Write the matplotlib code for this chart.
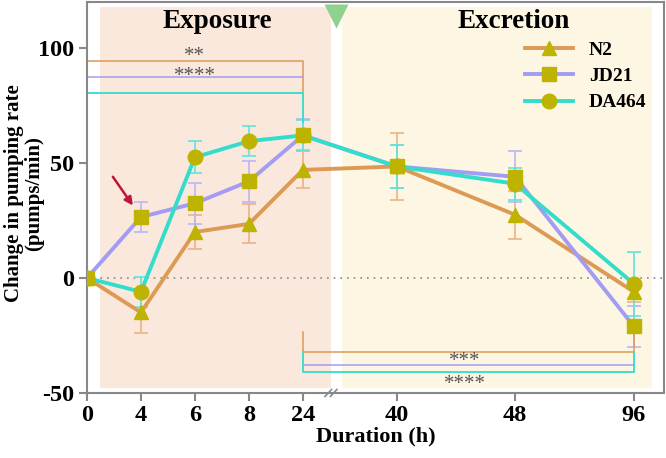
import numpy as np
import matplotlib.pyplot as plt
from matplotlib.patches import Rectangle

hours = ['0', '4', '6', '8', '24', '40', '48', '96']
strains = ['N2', 'JD21', 'DA464']
n2_mean = [0, -15, 20, 23.5, 47, 48.5, 27.5, -6]
n2_sd = [0, 9, 7.5, 8.5, 8, 14.5, 10.5, 4.5]
jd21_mean = [0, 26.5, 32.5, 42, 62, 48.5, 44, -21]
jd21_sd = [0, 6.5, 9, 9, 7, 9.5, 11, 9]
da464_mean = [0, -6, 52.5, 59.5, 62, 48.5, 41, -2.5]
da464_sd = [0, 6.5, 7, 6.5, 6.5, 9.5, 7, 14]

line_colors = ['#dd9a55', '#a29cf2', '#33dccb']
err_colors = ['#eab385', '#bcb6f6', '#5fe6d8']
markers = ['^', 's', 'o']
marker_color = '#bdb300'

plt.rcParams['font.family'] = 'Liberation Serif'
plt.rcParams['font.weight'] = 'bold'
plt.rcParams['axes.unicode_minus'] = False

# first five time points evenly spaced, the excretion ones wider apart
pos = np.array([0, 1, 2, 3, 4, 5.74, 7.93, 10.13])

fig = plt.figure(figsize=(6.66, 4.58), dpi=100)
ax = fig.add_axes([0.1306, 0.142, 0.8664, 0.8536])
ax.set_xlim(0, 10.69)
ax.set_ylim(-50, 120)

# shaded phases
ax.add_patch(Rectangle((0.24, -48), 4.28, 166, color='#fae8dd', zorder=0, lw=0))
ax.add_patch(Rectangle((4.72, -48), 5.75, 166, color='#fdf6e2', zorder=0, lw=0))

ax.axhline(0, color='#888888', ls=(0, (1, 3)), lw=1.2, zorder=1)

series = [n2_mean, jd21_mean, da464_mean]
sds = [n2_sd, jd21_sd, da464_sd]
for i in range(3):
    ax.errorbar(pos, series[i], yerr=sds[i], fmt='none', ecolor=err_colors[i],
                elinewidth=1.2, capsize=5, capthick=1.2, zorder=2)
for i in range(3):
    ax.plot(pos, series[i], color=line_colors[i], lw=2.8, marker=markers[i],
            ms=10 if markers[i] != 'o' else 10.5, mfc=marker_color, mec=marker_color,
            label=strains[i], zorder=3 + i * 0.1)

# significance brackets, exposure phase
ax.plot([0, 0, 4, 4], [81, 94.5, 94.5, 81], color=line_colors[0], lw=1.1, zorder=2)
ax.plot([0, 4], [87.5, 87.5], color=line_colors[1], lw=1.1, zorder=2)
ax.plot([0, 0, 4, 4], [13, 80.5, 80.5, 68], color=line_colors[2], lw=1.3, zorder=2)
star = dict(ha='center', va='center', fontsize=15, color='#555555', fontweight='normal')
ax.text(2, 96.5, '**', **star)
ax.text(2, 87.5, '****', **star)

# significance brackets, excretion phase
ax.plot([4, 4, 10.13, 10.13], [-23.5, -32, -32, -24], color=line_colors[0], lw=1.1, zorder=2)
ax.plot([4, 10.13], [-38, -38], color=line_colors[1], lw=1.1, zorder=2)
ax.plot([4, 4, 10.13, 10.13], [-32, -41, -41, -32], color=line_colors[2], lw=1.3, zorder=2)
ax.text(7.0, -36.5, '***', **star)
ax.text(7.0, -46.5, '****', **star)

# phase titles and break marker
ax.text(2.42, 111.5, 'Exposure', ha='center', va='center', fontsize=19.5)
ax.text(7.9, 111.5, 'Excretion', ha='center', va='center', fontsize=19.5)
ax.plot([4.62], [114], marker='v', ms=17, color='#8fd18f', mec='none', clip_on=False, zorder=5)
ax.annotate('', xy=(0.88, 30.5), xytext=(0.45, 45),
            arrowprops=dict(arrowstyle='-|>', color='#c0143c', lw=1.8, mutation_scale=12))

# axis break marks
for dx in (-0.04, 0.06):
    ax.plot([4.45 + dx, 4.57 + dx], [-51.5, -48.5], color='#888888', lw=1.2,
            clip_on=False, zorder=6)

ax.set_xticks(pos)
ax.set_xticklabels(hours)
ax.set_yticks([-50, 0, 50, 100])
ax.tick_params(axis='both', labelsize=17.5, color='#888888', width=1.5, length=6, pad=3)
for s in ax.spines.values():
    s.set_color('#888888')
    s.set_linewidth(1.5)

ax.set_xlabel('Duration (h)', fontsize=16, fontweight='bold', labelpad=0)
ax.set_ylabel('Change in pumping rate\n(pumps/min)', fontsize=15, fontweight='bold',
              linespacing=1.0)
ax.yaxis.set_label_coords(-0.075, 0.51)

leg = ax.legend(loc='upper right', bbox_to_anchor=(1.0, 0.945), frameon=False,
                fontsize=14, handlelength=2.5, labelspacing=0.45, handletextpad=0.8)

fig.savefig('out.png', dpi=100)
